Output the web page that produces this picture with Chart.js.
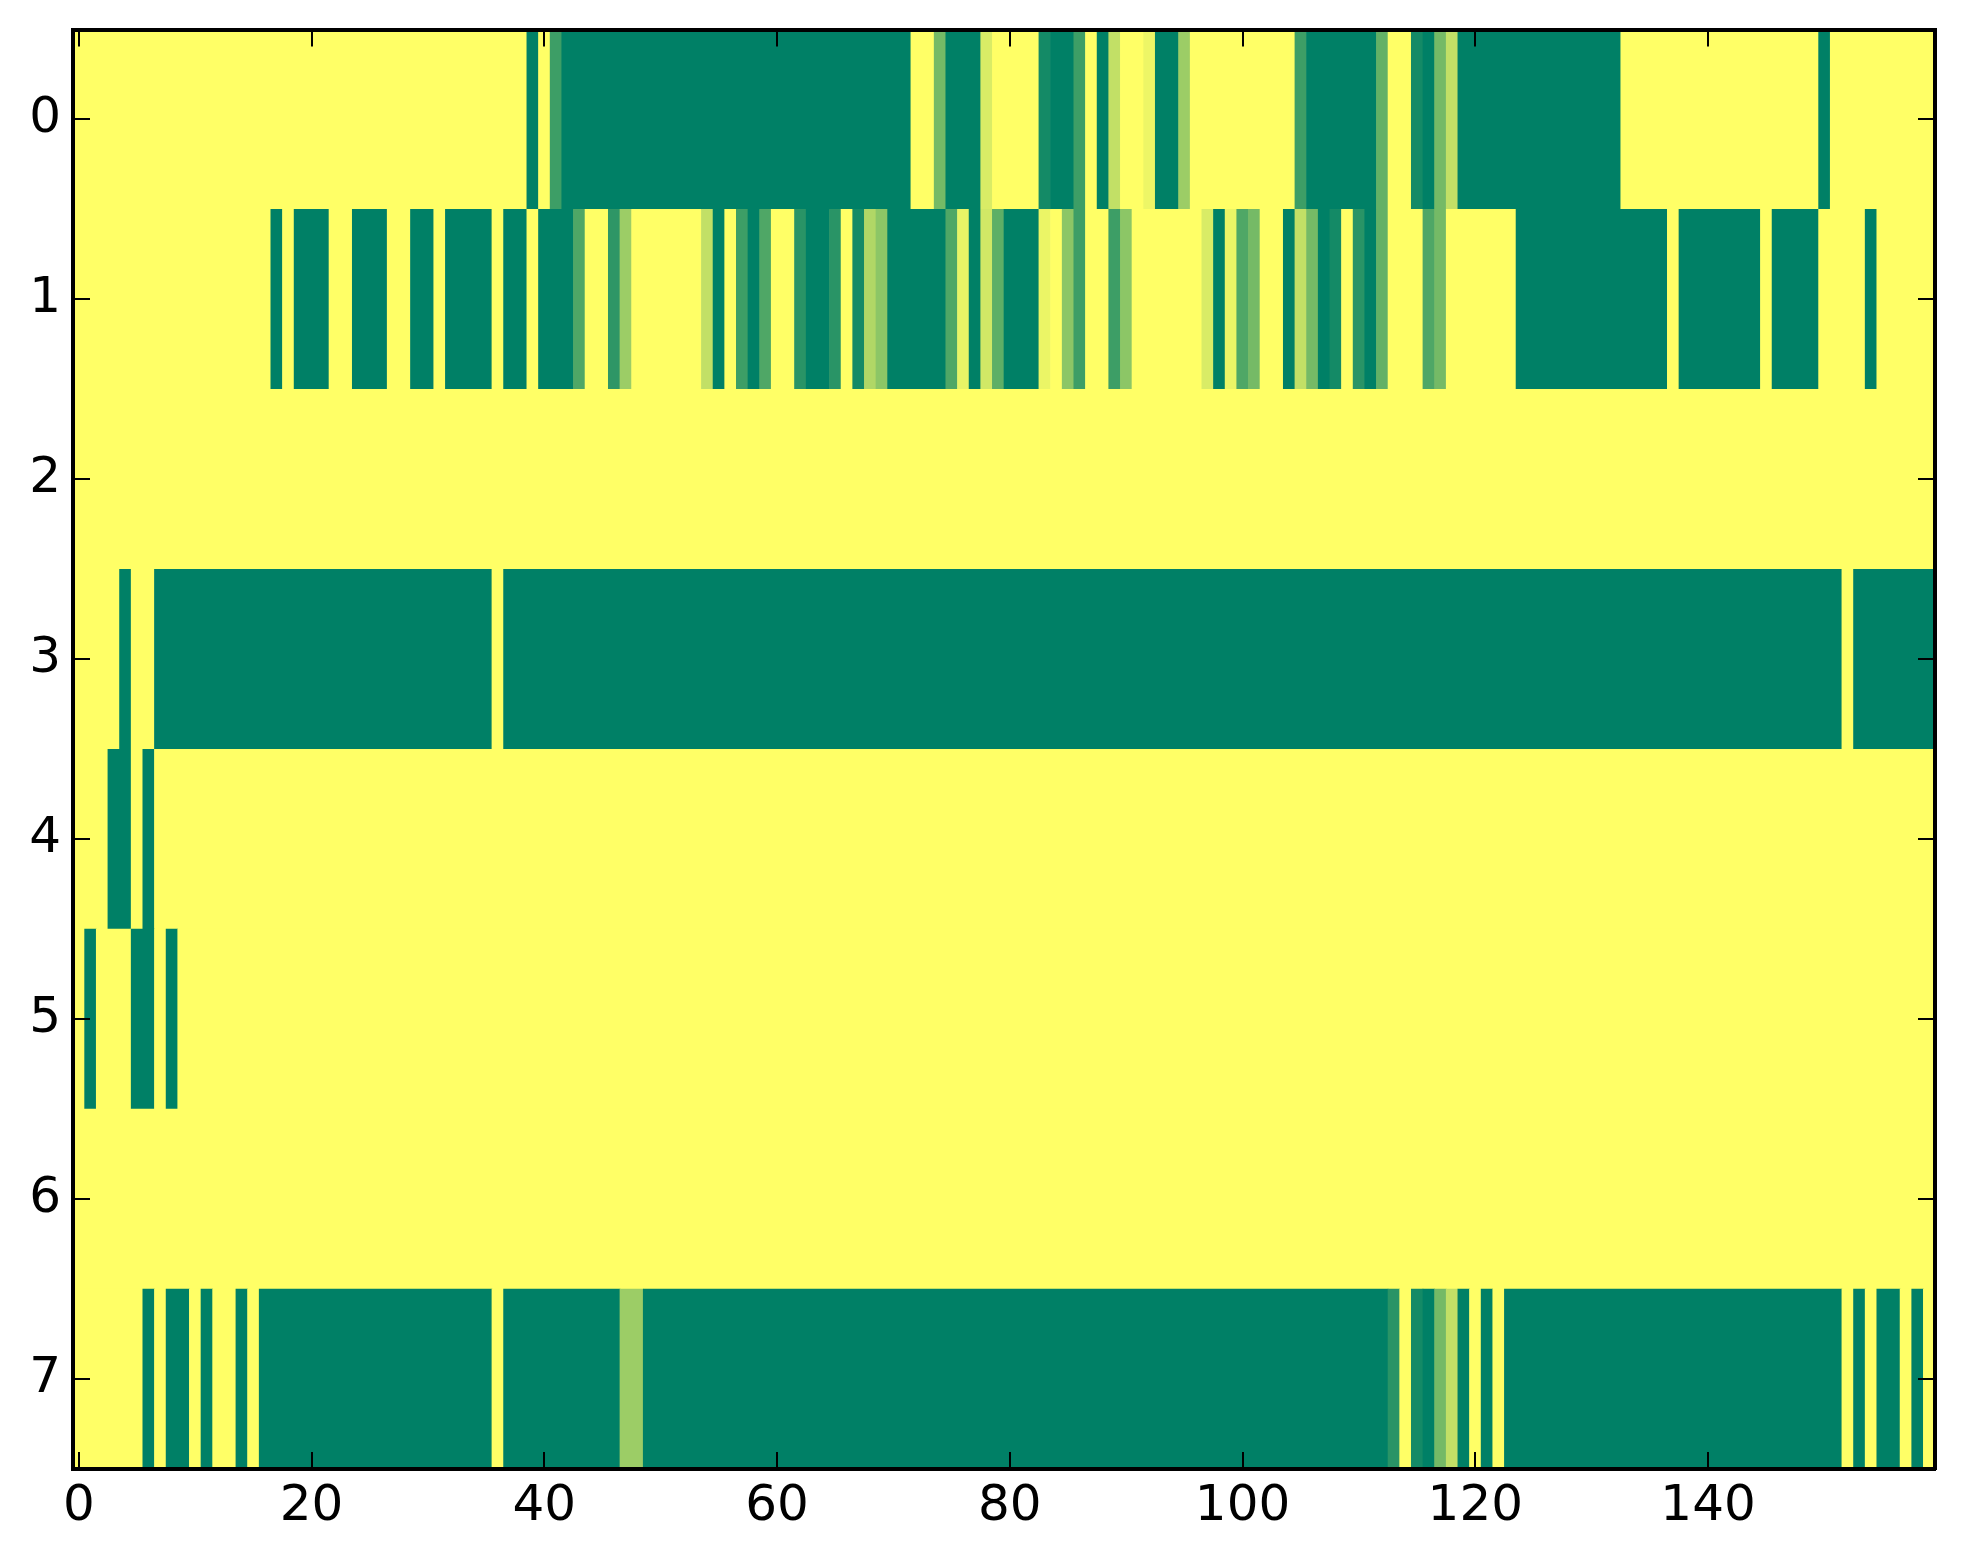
<!DOCTYPE html>
<html>
<head>
<meta charset="utf-8">
<script src="https://cdn.jsdelivr.net/npm/chart.js@4/dist/chart.umd.min.js"></script>
<style>
  html, body { margin: 0; padding: 0; background: #fff; }
  canvas { display: block; }
</style>
</head>
<body>
<canvas id="heat-chart-canvas" width="1963" height="1564"></canvas>
<script>
// tick labels
const xTicks = [0, 20, 40, 60, 80, 100, 120, 140];
const yTicks = [0, 1, 2, 3, 4, 5, 6, 7];

// one array per image row, 160 cells each (0 = green, 1 = yellow)
const row0 = [
    1,1,1,1,1,1,1,1,1,1,1,1,1,1,1,1,1,1,1,1,
    1,1,1,1,1,1,1,1,1,1,1,1,1,1,1,1,1,1,1,0,
    1,0.24,0,0,0,0,0,0,0,0,0,0,0,0,0,0,0,0,0,0,
    0,0,0,0,0,0,0,0,0,0,0,0,1,1,0.46,0,0,0,0.85,1,
    1,1,1,0.08,0,0,0.24,1,0,0.76,1,1,0.93,0,0,0.61,1,1,1,1,
    1,1,1,1,1,0.24,0,0,0,0,0,0,0.39,1,1,0.08,0,0.46,0.76,0,
    0,0,0,0,0,0,0,0,0,0,0,0,0,1,1,1,1,1,1,1,
    1,1,1,1,1,1,1,1,1,1,0,1,1,1,1,1,1,1,1,1
];
const row1 = [
    1,1,1,1,1,1,1,1,1,1,1,1,1,1,1,1,1,0,1,0,
    0,0,1,1,0,0,0,1,1,0,0,1,0,0,0,0,1,0,0,1,
    0,0,0,0.31,1,1,0.18,0.61,1,1,1,1,1,1,0.76,0,1,0.24,0,0.31,
    1,1,0.16,0,0,0.16,1,0.08,0.69,0.55,0,0,0,0,0,0.31,0.91,0,0.82,0.37,
    0,0,0,0.92,1,0.55,0.24,1,1,0.24,0.55,1,1,1,1,1,1,0.85,0,0.92,
    0.31,0.46,1,1,0,0.76,0.46,0,0.08,1,0.16,0,0.39,1,1,1,0.31,0.46,1,1,
    1,1,1,1,0,0,0,0,0,0,0,0,0,0,0,0,0,1,0,0,
    0,0,0,0,0,1,0,0,0,0,1,1,1,1,0,1,1,1,1,1
];
const row2 = [
    1,1,1,1,1,1,1,1,1,1,1,1,1,1,1,1,1,1,1,1,
    1,1,1,1,1,1,1,1,1,1,1,1,1,1,1,1,1,1,1,1,
    1,1,1,1,1,1,1,1,1,1,1,1,1,1,1,1,1,1,1,1,
    1,1,1,1,1,1,1,1,1,1,1,1,1,1,1,1,1,1,1,1,
    1,1,1,1,1,1,1,1,1,1,1,1,1,1,1,1,1,1,1,1,
    1,1,1,1,1,1,1,1,1,1,1,1,1,1,1,1,1,1,1,1,
    1,1,1,1,1,1,1,1,1,1,1,1,1,1,1,1,1,1,1,1,
    1,1,1,1,1,1,1,1,1,1,1,1,1,1,1,1,1,1,1,1
];
const row3 = [
    1,1,1,1,0,1,1,0,0,0,0,0,0,0,0,0,0,0,0,0,
    0,0,0,0,0,0,0,0,0,0,0,0,0,0,0,0,1,0,0,0,
    0,0,0,0,0,0,0,0,0,0,0,0,0,0,0,0,0,0,0,0,
    0,0,0,0,0,0,0,0,0,0,0,0,0,0,0,0,0,0,0,0,
    0,0,0,0,0,0,0,0,0,0,0,0,0,0,0,0,0,0,0,0,
    0,0,0,0,0,0,0,0,0,0,0,0,0,0,0,0,0,0,0,0,
    0,0,0,0,0,0,0,0,0,0,0,0,0,0,0,0,0,0,0,0,
    0,0,0,0,0,0,0,0,0,0,0,0,1,0,0,0,0,0,0,0
];
const row4 = [
    1,1,1,0,0,1,0,1,1,1,1,1,1,1,1,1,1,1,1,1,
    1,1,1,1,1,1,1,1,1,1,1,1,1,1,1,1,1,1,1,1,
    1,1,1,1,1,1,1,1,1,1,1,1,1,1,1,1,1,1,1,1,
    1,1,1,1,1,1,1,1,1,1,1,1,1,1,1,1,1,1,1,1,
    1,1,1,1,1,1,1,1,1,1,1,1,1,1,1,1,1,1,1,1,
    1,1,1,1,1,1,1,1,1,1,1,1,1,1,1,1,1,1,1,1,
    1,1,1,1,1,1,1,1,1,1,1,1,1,1,1,1,1,1,1,1,
    1,1,1,1,1,1,1,1,1,1,1,1,1,1,1,1,1,1,1,1
];
const row5 = [
    1,0,1,1,1,0,0,1,0,1,1,1,1,1,1,1,1,1,1,1,
    1,1,1,1,1,1,1,1,1,1,1,1,1,1,1,1,1,1,1,1,
    1,1,1,1,1,1,1,1,1,1,1,1,1,1,1,1,1,1,1,1,
    1,1,1,1,1,1,1,1,1,1,1,1,1,1,1,1,1,1,1,1,
    1,1,1,1,1,1,1,1,1,1,1,1,1,1,1,1,1,1,1,1,
    1,1,1,1,1,1,1,1,1,1,1,1,1,1,1,1,1,1,1,1,
    1,1,1,1,1,1,1,1,1,1,1,1,1,1,1,1,1,1,1,1,
    1,1,1,1,1,1,1,1,1,1,1,1,1,1,1,1,1,1,1,1
];
const row6 = [
    1,1,1,1,1,1,1,1,1,1,1,1,1,1,1,1,1,1,1,1,
    1,1,1,1,1,1,1,1,1,1,1,1,1,1,1,1,1,1,1,1,
    1,1,1,1,1,1,1,1,1,1,1,1,1,1,1,1,1,1,1,1,
    1,1,1,1,1,1,1,1,1,1,1,1,1,1,1,1,1,1,1,1,
    1,1,1,1,1,1,1,1,1,1,1,1,1,1,1,1,1,1,1,1,
    1,1,1,1,1,1,1,1,1,1,1,1,1,1,1,1,1,1,1,1,
    1,1,1,1,1,1,1,1,1,1,1,1,1,1,1,1,1,1,1,1,
    1,1,1,1,1,1,1,1,1,1,1,1,1,1,1,1,1,1,1,1
];
const row7 = [
    1,1,1,1,1,1,0,1,0,0,1,0,1,1,0,1,0,0,0,0,
    0,0,0,0,0,0,0,0,0,0,0,0,0,0,0,0,1,0,0,0,
    0,0,0,0,0,0,0,0.61,0.61,0,0,0,0,0,0,0,0,0,0,0,
    0,0,0,0,0,0,0,0,0,0,0,0,0,0,0,0,0,0,0,0,
    0,0,0,0,0,0,0,0,0,0,0,0,0,0,0,0,0,0,0,0,
    0,0,0,0,0,0,0,0,0,0,0,0,0,0.16,1,0.08,0,0.46,0.76,0,
    1,0,1,0,0,0,0,0,0,0,0,0,0,0,0,0,0,0,0,0,
    0,0,0,0,0,0,0,0,0,0,0,0,1,0,1,0,0,1,0,1
];
const rows = [row0, row1, row2, row3, row4, row5, row6, row7];

// matplotlib "summer" colormap
const summer = v => `rgb(${Math.round(v * 255)}, ${Math.round((0.5 + 0.5 * v) * 255)}, 102)`;

// merge equal neighbouring cells into one floating bar per run
const cells = [];
rows.forEach((row, r) => {
    let start = 0;
    for (let c = 1; c <= row.length; c++) {
        if (c === row.length || row[c] !== row[start]) {
            cells.push({ y: r, x: [start - 0.5, c - 0.5], v: row[start] });
            start = c;
        }
    }
});

Chart.defaults.font.family = 'DejaVu Sans';
Chart.defaults.font.size = 50;
Chart.defaults.color = '#000';

const frame = (extra) => Object.assign({
    offset: false,
    grid: { offset: false, drawOnChartArea: false, color: '#000', lineWidth: 2, tickLength: -17, z: 1 },
    border: { display: true, color: '#000', width: 4, z: 2 }
}, extra);

const xScale = (position, showLabels, height) => frame({
    type: 'linear', position, min: -0.5, max: 159.5,
    afterBuildTicks: s => { s.ticks = xTicks.map(v => ({ value: v })); },
    afterFit: s => { s.height = height; },
    ticks: { display: showLabels, padding: 25, maxRotation: 0, minRotation: 0, autoSkip: false }
});

// tiny lineHeight keeps the label half-height out of the layout padding
const yScale = (position, showLabels, width) => frame({
    type: 'linear', position, min: -0.5, max: 7.5, reverse: true,
    afterBuildTicks: s => { s.ticks = yTicks.map(v => ({ value: v })); },
    afterFit: s => { s.width = width; },
    ticks: { display: showLabels, padding: 29, autoSkip: false, font: { lineHeight: 0.02 } }
});

new Chart(document.getElementById('heat-chart-canvas'), {
    type: 'bar',
    data: {
        datasets: [{
            data: cells,
            xAxisID: 'x',
            yAxisID: 'y',
            backgroundColor: ctx => summer(ctx.raw.v),
            borderWidth: 0,
            grouped: false,
            barPercentage: 1,
            categoryPercentage: 1
        }]
    },
    options: {
        indexAxis: 'y',
        responsive: false,
        devicePixelRatio: 1,
        animation: false,
        layout: { padding: 0 },
        plugins: { legend: { display: false }, tooltip: { enabled: false } },
        scales: {
            x: xScale('bottom', true, 95),
            x2: xScale('top', false, 29),
            y: yScale('left', true, 73),
            y2: yScale('right', false, 28)
        }
    }
});
</script>
</body>
</html>
